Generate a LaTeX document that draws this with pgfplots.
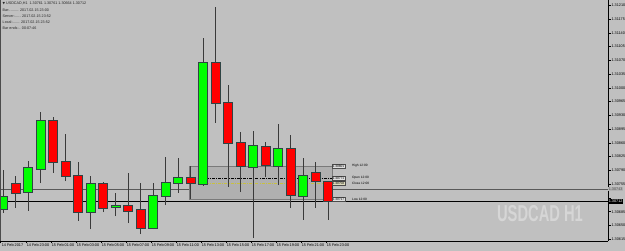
\documentclass[border=0pt]{standalone}
\usepackage{fontspec}
\setmainfont{Liberation Sans}
\newfontfamily\djv{DejaVu Sans}
\usepackage{pgfplots}
\usepackage{pgfplotstable}
\pgfplotsset{compat=1.18}
\definecolor{bg}{HTML}{C0C0C0}
\definecolor{wick}{HTML}{3A3A3A}
\definecolor{edge}{HTML}{2F4444}
\definecolor{upc}{HTML}{00FF00}
\definecolor{dnc}{HTML}{FF0000}
\definecolor{boxfill}{HTML}{B0B0B0}
\definecolor{boxedge}{HTML}{7A7A7A}
\definecolor{wm}{HTML}{D6D6D6}
\definecolor{oliv}{HTML}{C8C040}
\newcommand\fs[1]{\fontsize{#1}{#1}\selectfont}

\pgfplotstableread{
x o h l c
0 1.30692 1.30791 1.30682 1.30723
2 1.30735 1.30814 1.30687 1.30796
3 1.30794 1.30939 1.30758 1.30916
7 1.30684 1.30776 1.30641 1.30756
9 1.30696 1.30733 1.30674 1.30699
12 1.30644 1.30758 1.30641 1.30725
13 1.30725 1.30824 1.30702 1.30758
14 1.30758 1.30822 1.30733 1.30771
16 1.30756 1.31127 1.30751 1.31063
20 1.30799 1.30890 1.30618 1.30852
22 1.30801 1.30908 1.30753 1.30845
24 1.30725 1.30822 1.30664 1.30776
}\upbars

\pgfplotstableread{
x o h l c
1 1.30756 1.30776 1.30695 1.30733
4 1.30916 1.30926 1.30784 1.30812
5 1.30812 1.30883 1.30763 1.30776
6 1.30776 1.30812 1.30662 1.30684
8 1.30756 1.30761 1.30684 1.30695
10 1.30700 1.30784 1.30656 1.30687
11 1.30690 1.30758 1.30628 1.30644
15 1.30771 1.30801 1.30717 1.30758
17 1.31063 1.31206 1.30911 1.30962
18 1.30962 1.31007 1.30748 1.30860
19 1.30860 1.30888 1.30735 1.30801
21 1.30850 1.30862 1.30773 1.30804
23 1.30845 1.30880 1.30695 1.30728
25 1.30784 1.30812 1.30695 1.30763
26 1.30761 1.30761 1.30664 1.30712
}\dnbars

\begin{document}
\begin{tikzpicture}
\useasboundingbox (0,0) rectangle (625pt,251pt);
\fill[bg] (0,0) rectangle (625pt,251pt);
\begin{axis}[
  at={(0pt,10pt)}, anchor=south west,
  width=608pt, height=241pt, scale only axis,
  xmin=-0.264, xmax=48.376,
  ymin=1.306106, ymax=1.312235,
  clip mode=individual,
  axis x line*=bottom, axis y line*=right,
  axis line style={black, line width=0.8pt},
  tick align=outside, major tick length=2.5pt,
  tick style={black, line width=0.6pt},
  ytick={1.30615,1.30650,1.30685,1.30720,1.30755,1.30790,1.30825,1.30860,1.30895,1.30930,1.30965,1.31000,1.31035,1.31070,1.31105,1.31140,1.31175,1.31210},
  yticklabels={1.30615,1.30650,1.30685,{},1.30755,1.30790,1.30825,1.30860,1.30895,1.30930,1.30965,1.31000,1.31035,1.31070,1.31105,1.31140,1.31175,1.31210},
  xtick={-0.2,1.8,3.8,5.8,7.8,9.8,11.8,13.8,15.8,17.8,19.8,21.8,23.8,25.8},
  xticklabels={14 Feb 2017,14 Feb 23:00,15 Feb 01:00,15 Feb 03:00,15 Feb 05:00,15 Feb 07:00,15 Feb 09:00,15 Feb 11:00,15 Feb 13:00,15 Feb 15:00,15 Feb 17:00,15 Feb 19:00,15 Feb 21:00,15 Feb 23:00},
  xticklabel style={font=\fs{3.8}, anchor=north west, inner sep=0pt, xshift=0.8pt, yshift=-0.5pt},
  yticklabel style={font=\fs{3.8}, anchor=west, inner sep=0pt, xshift=0.8pt},
]
% horizontal lines
\draw[color=gray!70!black, line width=0.6pt] (axis cs:-0.264,1.30743) -- (axis cs:48.376,1.30743);
\draw[black, line width=0.9pt] (axis cs:-0.264,1.30712) -- (axis cs:48.376,1.30712);
% rectangle object
\draw[boxedge, fill=boxfill, line width=0.7pt] (axis cs:14.856,1.30717) rectangle (axis cs:26.296,1.30801);
\draw[black, line width=0.6pt, dash pattern=on 3pt off 1.2pt on 0.8pt off 1.2pt] (axis cs:15.2,1.30771) -- (axis cs:26.296,1.30771);
\draw[oliv, line width=0.7pt, dash pattern=on 3pt off 1.2pt on 0.8pt off 1.2pt] (axis cs:15.2,1.30758) -- (axis cs:26.296,1.30758);
% wicks
\addplot[draw=none, mark=none, forget plot, error bars/.cd, y dir=plus, y explicit, error mark=none, error bar style={draw=wick, line width=1pt}]
  table[x=x, y=l, y error plus expr=\thisrow{h}-\thisrow{l}] {\upbars};
\addplot[draw=none, mark=none, forget plot, error bars/.cd, y dir=plus, y explicit, error mark=none, error bar style={draw=wick, line width=1pt}]
  table[x=x, y=l, y error plus expr=\thisrow{h}-\thisrow{l}] {\dnbars};
% body outlines
\addplot[draw=none, mark=none, forget plot, error bars/.cd, y dir=plus, y explicit, error mark=none, error bar style={draw=edge, line width=10pt}]
  table[x=x, y expr=\thisrow{o}-0.00002, y error plus expr=\thisrow{c}-\thisrow{o}+0.00004] {\upbars};
\addplot[draw=none, mark=none, forget plot, error bars/.cd, y dir=plus, y explicit, error mark=none, error bar style={draw=edge, line width=10pt}]
  table[x=x, y expr=\thisrow{c}-0.00002, y error plus expr=\thisrow{o}-\thisrow{c}+0.00004] {\dnbars};
% bodies
\addplot[draw=none, mark=none, forget plot, error bars/.cd, y dir=plus, y explicit, error mark=none, error bar style={draw=upc, line width=8pt}]
  table[x=x, y=o, y error plus expr=\thisrow{c}-\thisrow{o}] {\upbars};
\addplot[draw=none, mark=none, forget plot, error bars/.cd, y dir=plus, y explicit, error mark=none, error bar style={draw=dnc, line width=8pt}]
  table[x=x, y=c, y error plus expr=\thisrow{o}-\thisrow{c}] {\dnbars};
% rectangle labels
\begin{scope}[every node/.style={font=\fs{3.2}, inner sep=0.5pt, minimum height=4.4pt, anchor=west}]
\node[fill=gray!25, draw=black!70, line width=0.4pt] at (axis cs:26.296,1.30801) {1.30801};
\node[fill=gray!25, draw=black!70, line width=0.4pt] at (axis cs:26.296,1.30771) {1.30771};
\node[fill=oliv!60!gray!40, draw=black!70, line width=0.4pt] at (axis cs:26.296,1.30758) {1.30758};
\node[fill=gray!25, draw=black!70, line width=0.4pt] at (axis cs:26.296,1.30717) {1.30717};
\node at (axis cs:27.85,1.30801) {High 12:00};
\node at (axis cs:27.85,1.30771) {Open 12:00};
\node at (axis cs:27.85,1.30757) {Close 12:00};
\node at (axis cs:27.85,1.30717) {Low 12:00};
\end{scope}
% price labels on the right scale
\node[fill=gray!60, text=black!70, anchor=west, inner sep=0.6pt, minimum height=4.8pt, font=\fs{3.8}] at (axis cs:48.376,1.30743) {1.30743};
\node[fill=black, text=white, anchor=west, inner sep=0.6pt, minimum height=4.8pt, font=\fs{3.8}] at (axis cs:48.376,1.30712) {1.30712};
% frame top/left
\draw[gray!60!black, line width=1pt] (rel axis cs:0,0) -- (rel axis cs:0,1) -- (rel axis cs:1,1);
\end{axis}
% watermark
\node[font=\bfseries\fs{23}, text=wm, xscale=0.64, inner sep=0pt] at (540pt,37.5pt) {USDCAD H1};
% info text
\begin{scope}[every node/.style={anchor=west, inner sep=0pt, font=\fs{3.7}, text=black!85}]
\node at (2.5pt,247.7pt) {{\djv\fs{3.2}▼} USDCAD,H1\ \ 1.30761 1.30761 1.30664 1.30712};
\node at (2.5pt,241.2pt) {Bar:......... 2017.02.15 23:00};
\node at (2.5pt,235.0pt) {Server:...... 2017.02.15 23:52};
\node at (2.5pt,228.8pt) {Local:....... 2017.02.15 23:52};
\node at (2.5pt,222.5pt) {Bar ends:.. 00:07:46};
\end{scope}
\end{tikzpicture}
\end{document}
